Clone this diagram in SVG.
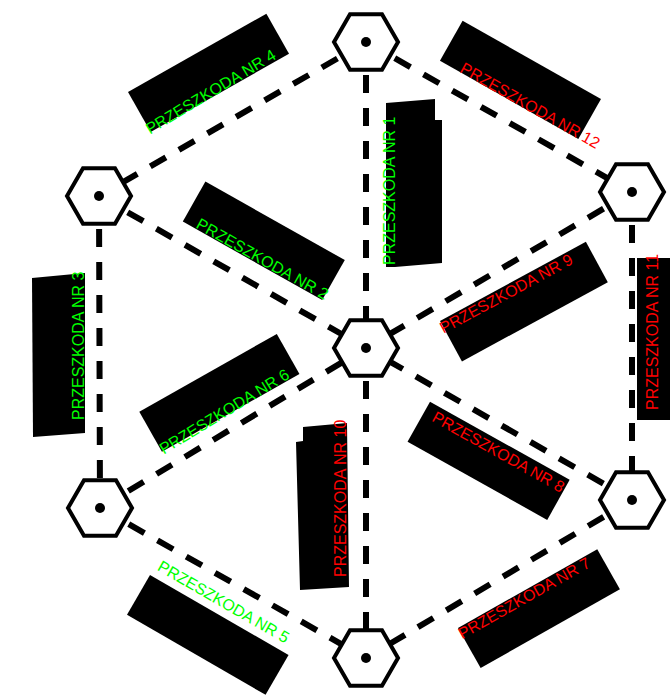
<svg xmlns="http://www.w3.org/2000/svg" width="670" height="695" viewBox="0 0 670 695">
<style>
.edge{stroke:#000;stroke-width:6;stroke-dasharray:18 15;fill:none}
.hex{fill:#fff;stroke:#000;stroke-width:4;stroke-linejoin:miter}
.dot{fill:#000}
.box{fill:#000}
.lbl{font-family:"Liberation Sans",Arial,sans-serif;font-size:16px}
.g{fill:#00ff00}
.r{fill:#ff0000}
</style>
<defs>
<g id="hexshape">
<polygon class="hex" points="-32,0 -16,-27.7 16,-27.7 32,0 16,27.7 -16,27.7"/>
<circle class="dot" r="5"/>
</g>
</defs>
<rect width="670" height="695" fill="#fff"/>
<g id="connectors">
<line class="edge" x1="366" y1="42" x2="99" y2="196"/>
<line class="edge" x1="366" y1="42" x2="632" y2="192"/>
<line class="edge" x1="366" y1="42" x2="366" y2="348"/>
<line class="edge" x1="99" y1="196" x2="366" y2="348"/>
<line class="edge" x1="632" y1="192" x2="366" y2="348"/>
<line class="edge" x1="99" y1="196" x2="100" y2="508"/>
<line class="edge" x1="632" y1="192" x2="632" y2="500"/>
<line class="edge" x1="100" y1="508" x2="366" y2="348"/>
<line class="edge" x1="632" y1="500" x2="366" y2="348"/>
<line class="edge" x1="100" y1="508" x2="366" y2="658"/>
<line class="edge" x1="632" y1="500" x2="366" y2="658"/>
<line class="edge" x1="366" y1="348" x2="366" y2="658"/>
</g>
<g id="labels">
<g id="label4" transform="translate(128,92) rotate(-29.5)"><rect class="box" width="159" height="46"/><text class="lbl g" x="-2" y="48" transform="rotate(-1.5 -2 48)">PRZESZKODA NR 4</text></g>
<g id="label12" transform="translate(462.6,20.7) rotate(29.5)"><rect class="box" width="159" height="46"/><text class="lbl r" x="22" y="46">PRZESZKODA NR 12</text></g>
<g id="label2" transform="translate(205.4,181.5) rotate(29.4)"><rect class="box" width="160" height="46"/><text class="lbl g" x="13.5" y="45">PRZESZKODA NR 2</text></g>
<g id="label1"><polygon class="box" points="386,103 435,99 435,120 442,120 442,263 395,267 386,267"/><text class="lbl g" transform="translate(395,265) rotate(-90)">PRZESZKODA NR 1</text></g>
<g id="label3"><polygon class="box" points="32,278 85,273 85,433 33,437"/><text class="lbl g" transform="translate(83.5,420) rotate(-90)">PRZESZKODA NR 3</text></g>
<g id="label11"><rect class="box" x="637" y="258" width="40" height="162"/><text class="lbl r" transform="translate(658,410) rotate(-90)">PRZESZKODA NR 11</text></g>
<g id="label10"><polygon class="box" points="303,427 347,423 349,587 300,590 296,442 303,441"/><text class="lbl r" transform="translate(346,577) rotate(-90)">PRZESZKODA NR 10</text></g>
<g id="label9" transform="translate(440,321) rotate(-28.5)"><rect class="box" width="166" height="46"/><text class="lbl r" x="-3" y="13">PRZESZKODA NR 9</text></g>
<g id="label8" transform="translate(430,401.7) rotate(29.2)"><rect class="box" width="160" height="46"/><text class="lbl r" x="10" y="16">PRZESZKODA NR 8</text></g>
<g id="label6" transform="translate(139.3,411.7) rotate(-29.5)"><rect class="box" width="158" height="46"/><text class="lbl g" x="0" y="49.5" transform="rotate(-1.8 0 49.5)">PRZESZKODA NR 6</text></g>
<g id="label5" transform="translate(150,575) rotate(30)"><rect class="box" width="160" height="46"/><text class="lbl g" x="3" y="-8">PRZESZKODA NR 5</text></g>
<g id="label7" transform="translate(458,628) rotate(-29.5)"><rect class="box" width="160" height="46"/><text class="lbl r" x="-2" y="12">PRZESZKODA NR 7</text></g>
</g>
<g id="node-top" transform="translate(366,42)"><use href="#hexshape"/></g>
<g id="node-upper-left" transform="translate(99,196)"><use href="#hexshape"/></g>
<g id="node-upper-right" transform="translate(632,192)"><use href="#hexshape"/></g>
<g id="node-center" transform="translate(366,348)"><use href="#hexshape"/></g>
<g id="node-lower-left" transform="translate(100,508)"><use href="#hexshape"/></g>
<g id="node-lower-right" transform="translate(632,500)"><use href="#hexshape"/></g>
<g id="node-bottom" transform="translate(366,658)"><use href="#hexshape"/></g>
</svg>
